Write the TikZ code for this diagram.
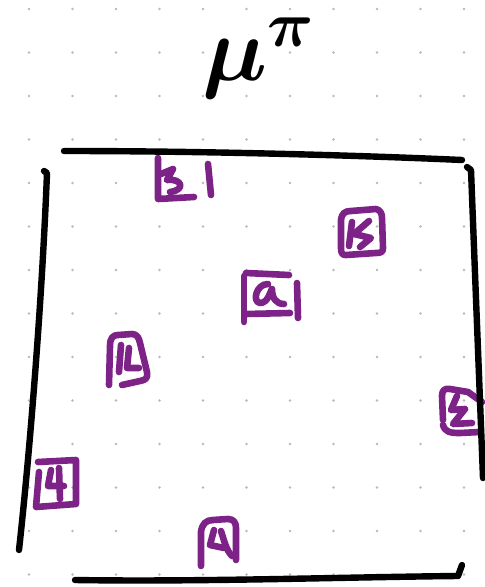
\RequirePackage{fix-cm}
\documentclass[tikz,border=0pt]{standalone}
\definecolor{pen}{RGB}{125,35,135}
\definecolor{dotc}{RGB}{185,185,185}
\begin{document}
\begin{tikzpicture}[x=1pt,y=-1pt,
  frame/.style={line width=6.4pt, line cap=round, line join=round},
  scrib/.style={draw=pen, line width=6.6pt, line cap=round, line join=round}]
\useasboundingbox (0,0) rectangle (485,587);
\fill[white] (0,0) rectangle (485,587);
% dotted grid
\foreach \i in {0,...,10}{
  \foreach \j in {0,...,13}{
    \fill[dotc] ({29+43.5*\i},{9+43.5*\j}) circle (1.4pt);
  }
}
% title
\node[inner sep=0pt, font=\fontsize{92}{96}\selectfont\boldmath] (title) at (258,58)
  {$\mu^{\pi}$};
% purple tags
% 1
\draw[scrib] (158,158) -- (158,199) -- (194,197);
\draw[scrib] (161,174) -- (173,169) -- (167,180) .. controls (182,178) and (186,190) .. (170,192);
\draw[scrib] (208,164) -- (211,195);
% 2
\draw[scrib] (341,220) .. controls (342,213) and (345,211) .. (351,211) -- (376,209) .. controls (380,210) and (382,213) .. (382,218) -- (383,248) .. controls (383,252) and (381,253) .. (376,253) -- (346,255) .. controls (342,255) and (341,253) .. (341,248) -- cycle;
\draw[scrib] (352,222) -- (349,246);
\draw[scrib] (369,221) -- (354,234) -- (371,238) -- (360,247);
% 3
\draw[scrib] (246,273) -- (289,275);
\draw[scrib] (244,276) -- (244,322);
\draw[scrib] (246,314) -- (290,313);
\draw[scrib] (297,283) -- (298,318);
\draw[scrib] (268,284) .. controls (256,284) and (252,302) .. (260,303) .. controls (268,303) and (270,292) .. (272,289) .. controls (272,298) and (276,304) .. (284,304);
% 4
\draw[scrib] (109,385) -- (110,346) .. controls (110,338) and (113,335) .. (118,335) -- (132,334) .. controls (137,334) and (139,338) .. (140,343) -- (147,372) .. controls (148,378) and (146,380) .. (140,381) -- (122,385);
\draw[scrib] (121,345) -- (119,372);
\draw[scrib] (129,348) -- (127,368) -- (139,368);
% 5
\draw[scrib] (443,420) -- (442,396) .. controls (442,390) and (445,388) .. (450,389) -- (468,392) -- (482,402);
\draw[scrib] (443,425) .. controls (445,432) and (450,433) .. (460,433) -- (480,432);
\draw[scrib] (457,396) -- (451,410) -- (465,409) -- (453,424) -- (472,423);
% 6
\draw[scrib] (38,462) -- (76,460) -- (76,504) -- (36,507) -- (39,472);
\draw[scrib] (51,470) -- (48,486) -- (64,486);
\draw[scrib] (59,468) -- (60,499);
% 7
\draw[scrib] (201,566) -- (201,532) .. controls (202,524) and (206,520) .. (213,520) -- (228,519) .. controls (234,519) and (236,523) .. (236,528) -- (236,560);
\draw[scrib] (214,530) -- (210,545) -- (224,548);
\draw[scrib] (221,531) .. controls (224,540) and (226,550) .. (232,556);
% black frame
\draw[frame] (64,151) .. controls (200,151) and (350,155) .. (462,160);
\draw[frame] (44,171) -- (47,173) .. controls (42,300) and (30,450) .. (19,550);
\draw[frame] (467,167) -- (471,170) .. controls (476,300) and (480,400) .. (483,478);
\draw[frame] (75,580) .. controls (200,582) and (350,577) .. (458,576) -- (462,565);
\end{tikzpicture}
\end{document}
